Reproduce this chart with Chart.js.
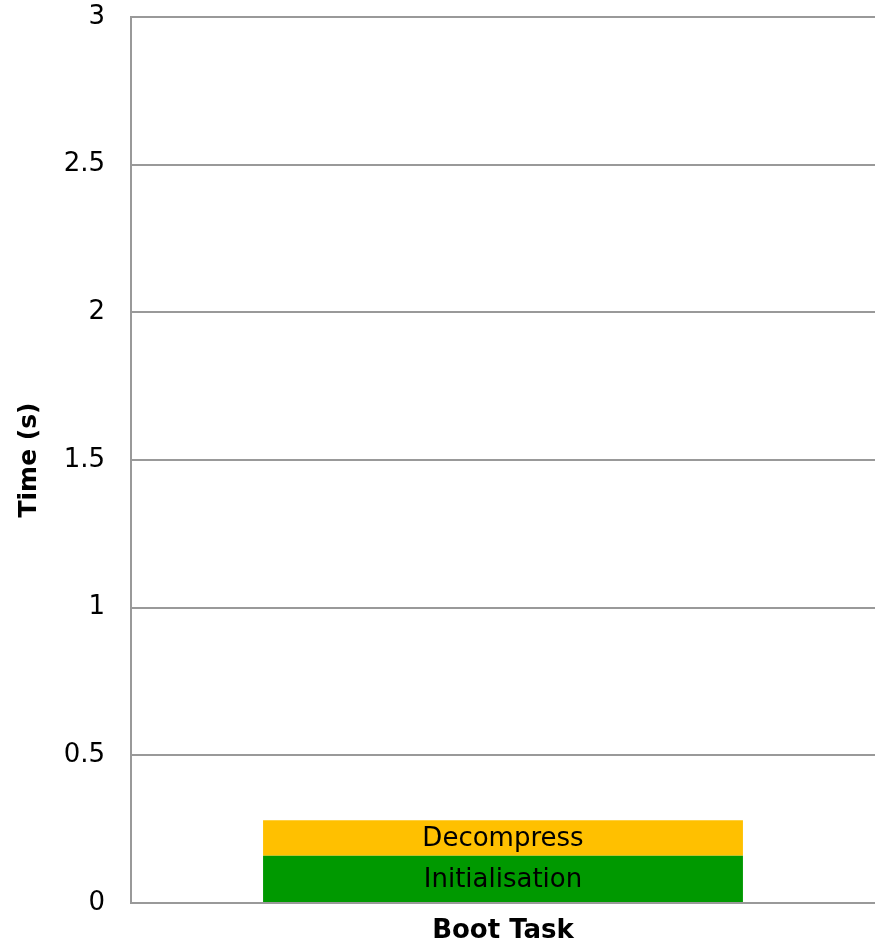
<!DOCTYPE html>
<html lang="en">
<head>
<meta charset="UTF-8"/>
<title>Boot Task</title>
<script src="https://cdn.jsdelivr.net/npm/chart.js"></script>
<style>
    html, body { margin: 0; padding: 0; background: #fff; }
    #chart { display: block; }
</style>
</head>
<body>
<canvas id="chart" width="875" height="938"></canvas>
<script>
    // Data
    const categories = ['Boot Task'];
    const stageNames = ['Initialisation', 'Decompress'];
    const initialisation = [0.16];
    const decompress = [0.12];
    const yTicks = [0, 0.5, 1, 1.5, 2, 2.5, 3];

    const FONT = "'DejaVu Sans', Verdana, sans-serif";

    // draws the stage name inside each segment
    const segmentLabels = {
        id: 'segmentLabels',
        afterDatasetsDraw(chart) {
            const ctx = chart.ctx;
            ctx.save();
            ctx.font = '26px ' + FONT;
            ctx.fillStyle = '#000';
            ctx.textAlign = 'center';
            ctx.textBaseline = 'middle';
            chart.data.datasets.forEach((ds, i) => {
                chart.getDatasetMeta(i).data.forEach(bar => {
                    const y = (bar.y + bar.base) / 2 + 1;
                    ctx.fillText(ds.label, bar.x, y);
                });
            });
            ctx.restore();
        }
    };

    new Chart(document.getElementById('chart'), {
        type: 'bar',
        data: {
            labels: categories,
            datasets: [
                { label: stageNames[0], data: initialisation, backgroundColor: '#009900' },
                { label: stageNames[1], data: decompress, backgroundColor: '#ffc000' }
            ]
        },
        options: {
            responsive: false,
            animation: false,
            barPercentage: 0.645,
            categoryPercentage: 1,
            layout: { padding: { top: 17, right: 0, left: 14, bottom: 0 } },
            plugins: {
                legend: { display: false },
                tooltip: { enabled: false }
            },
            scales: {
                x: {
                    stacked: true,
                    grid: { display: false },
                    border: { color: '#999', width: 2 },
                    ticks: {
                        color: '#000',
                        font: { family: FONT, size: 26, weight: 'bold' },
                        padding: 5
                    },
                    afterFit(scale) { scale.height = 35; }
                },
                y: {
                    stacked: true,
                    min: 0,
                    max: 3,
                    afterBuildTicks(scale) { scale.ticks = yTicks.map(v => ({ value: v })); },
                    grid: { color: '#999', lineWidth: 2, drawTicks: false },
                    border: { color: '#999', width: 2 },
                    ticks: {
                        color: '#000',
                        font: { family: FONT, size: 26 },
                        padding: 26,
                        callback: v => String(v)
                    },
                    title: {
                        display: true,
                        text: 'Time (s)',
                        color: '#000',
                        font: { family: FONT, size: 25, weight: 'bold' },
                        padding: 0
                    },
                    afterFit(scale) {
                        scale.width = 117;
                        scale.paddingTop = 0;
                        scale.paddingBottom = 0;
                    }
                }
            }
        },
        plugins: [segmentLabels]
    });
</script>
</body>
</html>
